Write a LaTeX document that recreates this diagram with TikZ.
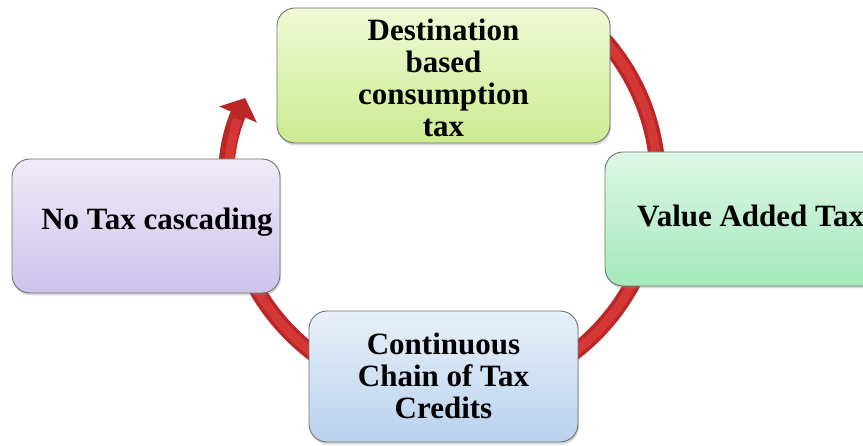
\documentclass[tikz,border=0pt]{standalone}
\usepackage{fontspec}
\setmainfont{Liberation Serif}
\usetikzlibrary{arrows.meta,shadows}
\definecolor{ringdark}{RGB}{188,38,38}
\definecolor{ringlight}{RGB}{212,56,54}
\definecolor{topA}{RGB}{240,249,212}
\definecolor{topB}{RGB}{203,235,146}
\definecolor{rightA}{RGB}{222,247,230}
\definecolor{rightB}{RGB}{164,233,187}
\definecolor{botA}{RGB}{232,240,249}
\definecolor{botB}{RGB}{185,210,238}
\definecolor{leftA}{RGB}{240,234,248}
\definecolor{leftB}{RGB}{206,195,236}
\definecolor{edge}{RGB}{110,115,110}
\begin{document}
\begin{tikzpicture}[x=1pt,y=1pt,
  box/.style={draw=edge, line width=0.9pt, rounded corners=18pt,
    drop shadow={opacity=0.3,shadow xshift=1pt,shadow yshift=-2.5pt}},
  lbl/.style={font=\fontsize{31}{32}\selectfont\bfseries, align=center, inner sep=0pt, text=black}]
\useasboundingbox (0,0) rectangle (863,445);
\coordinate (c) at (443,263);
% ring arrow
\draw[ringdark, line width=16pt, -{Triangle[width=40pt,length=18pt]}]
  ([shift={(45:215)}]c) arc[start angle=45, end angle=-203, radius=215];
\draw[ringlight, line width=9pt]
  ([shift={(45:215)}]c) arc[start angle=45, end angle=-197, radius=215];
% boxes
\node[box, top color=topA, bottom color=topB, minimum width=333pt, minimum height=135pt] (b1) at (443.5,369.5) {};
\node[box, top color=rightA, bottom color=rightB, minimum width=290pt, minimum height=134pt] (b2) at (750,226) {};
\node[box, top color=botA, bottom color=botB, minimum width=269pt, minimum height=131pt] (b3) at (443.5,68.5) {};
\node[box, top color=leftA, bottom color=leftB, minimum width=268pt, minimum height=134pt] (b4) at (146,219) {};
% labels
\node[lbl] (t1) at ([yshift=-2pt]b1.center) {Destination\\based\\consumption\\tax};
\node[lbl, anchor=base west] (t2) at (637,218) {Value Added Tax};
\node[lbl] (t3) at ([yshift=1pt]b3.center) {Continuous\\Chain of Tax\\Credits};
\node[lbl, anchor=base] (t4) at (157,215) {No Tax cascading};
\end{tikzpicture}
\end{document}
